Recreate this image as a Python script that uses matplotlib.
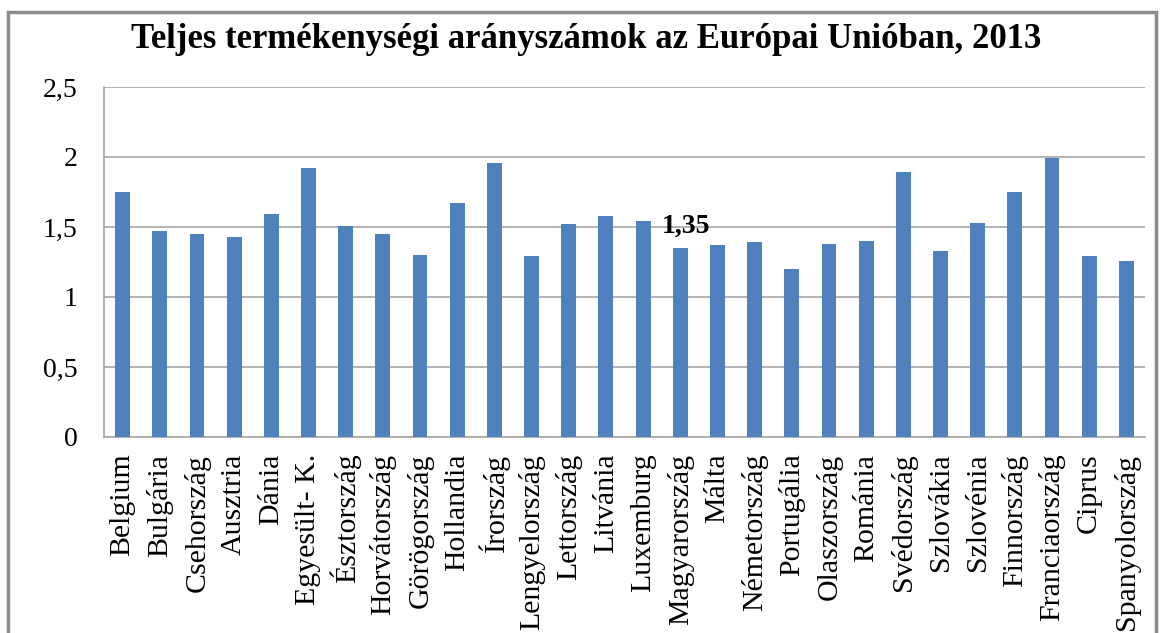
import matplotlib
matplotlib.use("Agg")
import matplotlib.pyplot as plt
from matplotlib.patches import Rectangle
from matplotlib.ticker import FuncFormatter

countries = ["Belgium", "Bulgária", "Csehország", "Ausztria", "Dánia", "Egyesült- K.",
             "Észtország", "Horvátország", "Görögország", "Hollandia", "Írország",
             "Lengyelország", "Lettország", "Litvánia", "Luxemburg", "Magyarország",
             "Málta", "Németország", "Portugália", "Olaszország", "Románia",
             "Svédország", "Szlovákia", "Szlovénia", "Finnország", "Franciaország",
             "Ciprus", "Spanyolország"]
values = [1.75, 1.47, 1.45, 1.43, 1.59, 1.92, 1.51, 1.45, 1.30, 1.67, 1.96,
          1.29, 1.52, 1.58, 1.54, 1.35, 1.37, 1.39, 1.20, 1.38, 1.40,
          1.89, 1.33, 1.53, 1.75, 1.99, 1.29, 1.26]
yticks = [0, 0.5, 1, 1.5, 2, 2.5]
highlight = "Magyarország"
title = "Teljes termékenységi arányszámok az Európai Unióban, 2013"

plt.rcParams['font.family'] = ['Liberation Serif', 'DejaVu Serif']

W, H = 1160, 633
fig = plt.figure(figsize=(W / 100, H / 100), dpi=100)
fig.patch.set_facecolor("white")

# chart frame
fig.patches.append(Rectangle((8 / W, 1 - 645 / H), (1156 - 8) / W, (645 - 12) / H,
                             transform=fig.transFigure, fill=False,
                             edgecolor="#8c8c8c", linewidth=2.5))

ax = fig.add_axes([104 / W, 1 - 437 / H, (1145 - 104) / W, (437 - 87) / H])
x = range(len(countries))
ax.bar(x, values, width=0.4, color="#4F81BD", zorder=3)
ax.set_xlim(-0.5, len(countries) - 0.5)
ax.set_ylim(0, 2.5)
ax.set_yticks(yticks)
ax.yaxis.set_major_formatter(FuncFormatter(lambda v, p: ("%g" % v).replace(".", ",")))
ax.grid(axis="y", color="#a6a6a6", linewidth=1.2, zorder=0)
ax.set_xticks(list(x))
ax.set_xticklabels(countries, rotation=90, fontsize=21.5)
ax.tick_params(axis="y", labelsize=20, length=0, pad=19)
ax.tick_params(axis="x", length=0, pad=12)
for s in ["top", "right"]:
    ax.spines[s].set_visible(False)
for s in ["left", "bottom"]:
    ax.spines[s].set_color("#a6a6a6")
    ax.spines[s].set_linewidth(1.2)

i = countries.index(highlight)
ax.annotate(("%.2f" % values[i]).replace(".", ","), (i, values[i]),
            xytext=(4, 11), textcoords="offset points", ha="center", va="baseline",
            fontsize=20, fontweight="bold", zorder=5)

fig.text(586 / W, 1 - 48 / H, title, ha="center", va="baseline",
         fontsize=25, fontweight="bold")

fig.savefig("out.png", dpi=100)
